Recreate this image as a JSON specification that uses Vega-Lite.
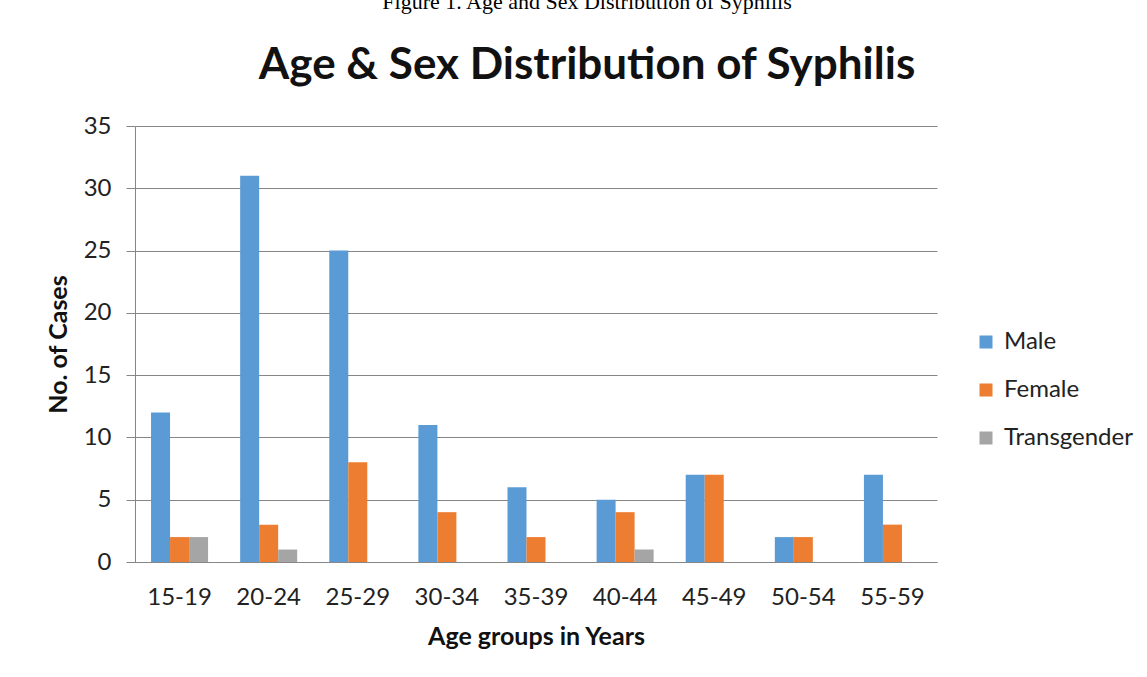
{
  "$schema": "https://vega.github.io/schema/vega-lite/v6.json",
  "autosize": {"type": "none"},
  "padding": {"left": 135, "top": 126, "right": 210, "bottom": 115},
  "width": 802,
  "height": 436,
  "background": "white",
  "title": {
    "text": "Figure 1. Age and Sex Distribution of Syphilis",
    "font": "Liberation Serif", "fontSize": 22, "fontWeight": "normal", "color": "black",
    "subtitle": "Age & Sex Distribution of Syphilis",
    "subtitleFont": "Lato", "subtitleFontSize": 44, "subtitleFontWeight": "bold", "subtitleColor": "#111111",
    "subtitlePadding": 30,
    "anchor": "middle", "offset": 25, "dx": 51
  },
  "data": {"values": [
    {"age": "15-19", "sex": "Male", "cases": 12},
    {"age": "15-19", "sex": "Female", "cases": 2},
    {"age": "15-19", "sex": "Transgender", "cases": 2},
    {"age": "20-24", "sex": "Male", "cases": 31},
    {"age": "20-24", "sex": "Female", "cases": 3},
    {"age": "20-24", "sex": "Transgender", "cases": 1},
    {"age": "25-29", "sex": "Male", "cases": 25},
    {"age": "25-29", "sex": "Female", "cases": 8},
    {"age": "25-29", "sex": "Transgender", "cases": 0},
    {"age": "30-34", "sex": "Male", "cases": 11},
    {"age": "30-34", "sex": "Female", "cases": 4},
    {"age": "30-34", "sex": "Transgender", "cases": 0},
    {"age": "35-39", "sex": "Male", "cases": 6},
    {"age": "35-39", "sex": "Female", "cases": 2},
    {"age": "35-39", "sex": "Transgender", "cases": 0},
    {"age": "40-44", "sex": "Male", "cases": 5},
    {"age": "40-44", "sex": "Female", "cases": 4},
    {"age": "40-44", "sex": "Transgender", "cases": 1},
    {"age": "45-49", "sex": "Male", "cases": 7},
    {"age": "45-49", "sex": "Female", "cases": 7},
    {"age": "45-49", "sex": "Transgender", "cases": 0},
    {"age": "50-54", "sex": "Male", "cases": 2},
    {"age": "50-54", "sex": "Female", "cases": 2},
    {"age": "50-54", "sex": "Transgender", "cases": 0},
    {"age": "55-59", "sex": "Male", "cases": 7},
    {"age": "55-59", "sex": "Female", "cases": 3},
    {"age": "55-59", "sex": "Transgender", "cases": 0}
  ]},
  "mark": {"type": "bar"},
  "encoding": {
    "x": {"field": "age", "type": "nominal", "sort": null,
          "scale": {"paddingInner": 0.36, "paddingOuter": 0.18},
          "axis": {"title": "Age groups in Years", "labelAngle": 0, "ticks": false, "domain": true, "domainColor": "#868686", "labelPadding": 23, "titlePadding": 15}},
    "xOffset": {"field": "sex", "type": "nominal", "sort": ["Male", "Female", "Transgender"], "scale": {"paddingInner": 0, "paddingOuter": 0}},
    "y": {"field": "cases", "type": "quantitative",
          "scale": {"domain": [0, 35], "nice": false},
          "axis": {"title": "No. of Cases", "values": [0, 5, 10, 15, 20, 25, 30, 35], "tickSize": 9, "tickColor": "#868686", "domainColor": "#868686", "gridColor": "#868686", "labelPadding": 15, "titlePadding": 12}},
    "color": {"field": "sex", "type": "nominal", "sort": ["Male", "Female", "Transgender"],
              "scale": {"domain": ["Male", "Female", "Transgender"], "range": ["#5B9BD5", "#ED7D31", "#A5A5A5"]},
              "legend": {"title": null, "orient": "none", "legendX": 839, "legendY": 204, "symbolType": "square", "symbolSize": 169, "symbolStrokeWidth": 0, "labelFontSize": 24, "labelFont": "Lato", "labelColor": "#222222", "rowPadding": 24, "labelOffset": 6}}
  },
  "config": {
    "view": {"stroke": null},
    "axis": {"labelFont": "Lato", "labelFontSize": 24, "labelColor": "#222222", "titleFont": "Lato", "titleFontSize": 25, "titleFontWeight": "bold", "titleColor": "#111111", "grid": false, "domainWidth": 1},
    "axisY": {"grid": true, "gridWidth": 1}
  }
}
